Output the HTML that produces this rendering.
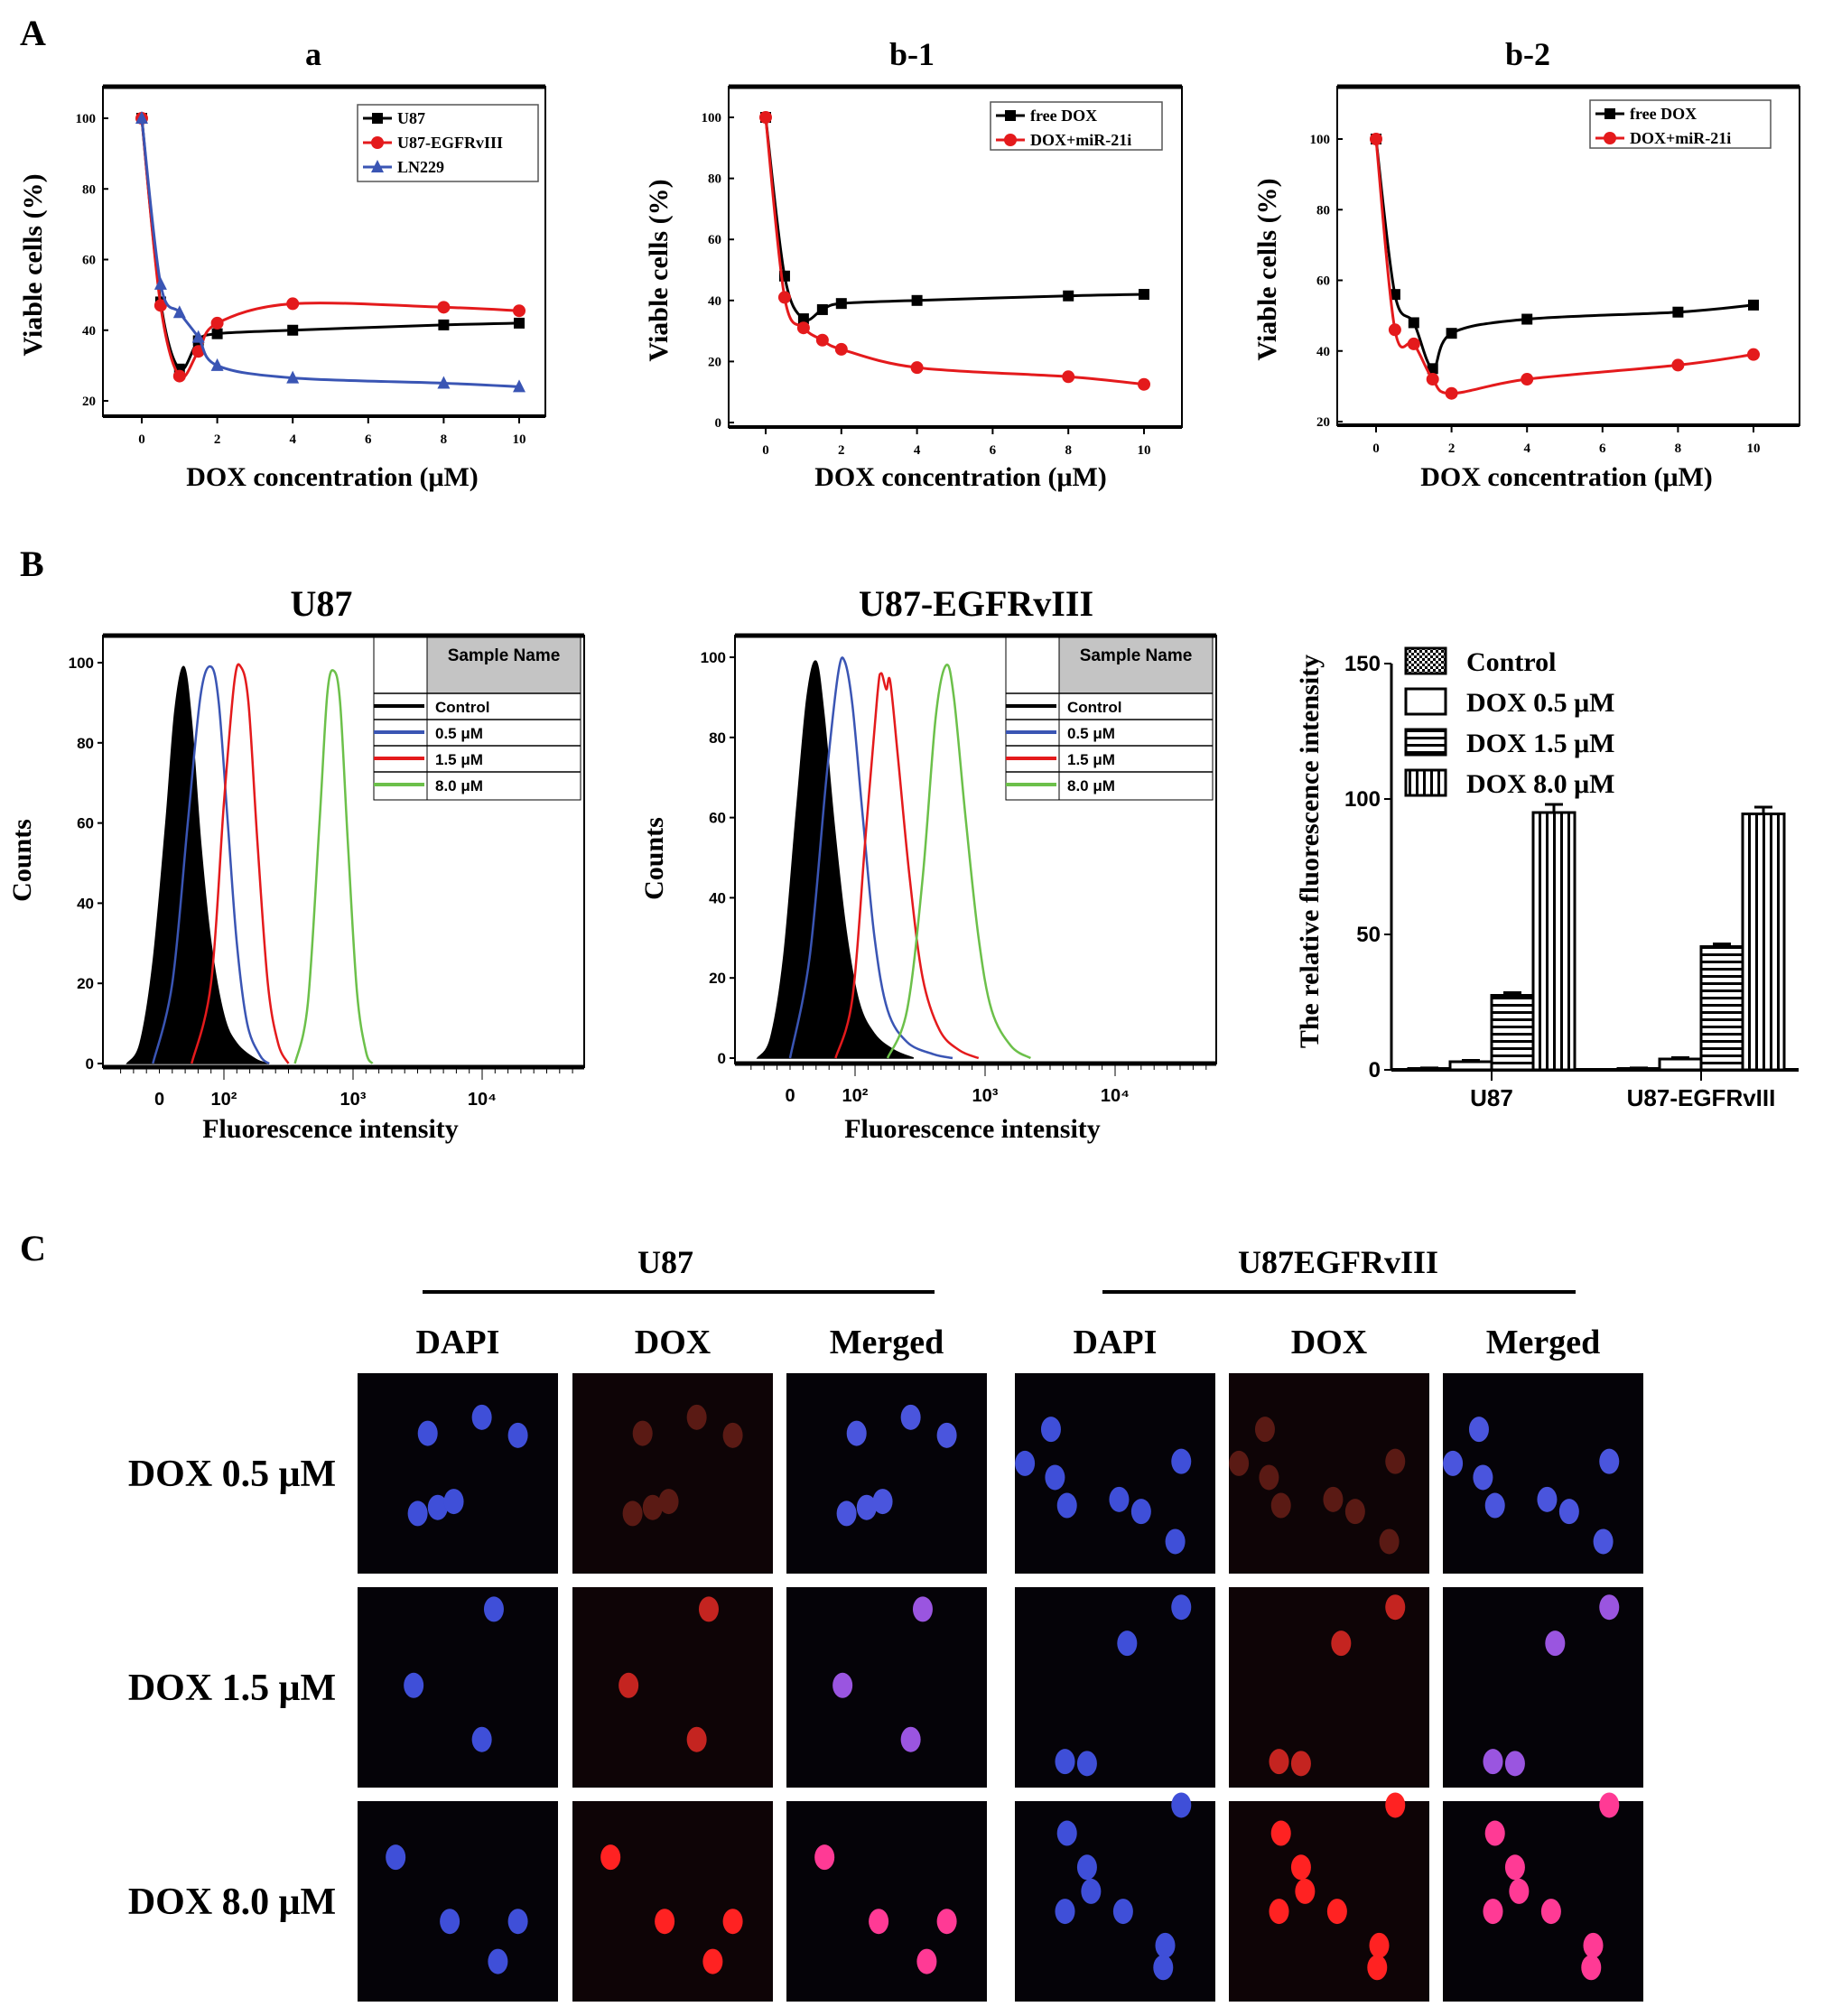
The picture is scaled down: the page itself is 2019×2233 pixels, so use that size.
<!DOCTYPE html>
<html><head><meta charset="utf-8"><style>
html,body{margin:0;padding:0;background:#fff}
svg{display:block}
text{font-family:"Liberation Serif",serif;font-weight:bold;fill:#000}
.sans{font-family:"Liberation Sans",sans-serif}
</style></head><body>
<svg id="fig" width="2019" height="2233" viewBox="0 0 2019 2233" xmlns="http://www.w3.org/2000/svg">
<text x="22" y="50" font-size="40">A</text>
<text x="22" y="638" font-size="40">B</text>
<text x="22" y="1396" font-size="40">C</text>
<g id="layer"></g>
</svg>
<script>
// ---- Panel A data ----
const doseX = [0,0.5,1,1.5,2,4,8,10];
const aU87 = [100,48,29,37,39,40,41.5,42];
const aEGFR = [100,47,27,34,42,47.5,46.5,45.5];
const aLN229 = [100,53,45,38,30,26.5,25,24];
const b1Free = [100,48,34,37,39,40,41.5,42];
const b1Mir = [100,41,31,27,24,18,15,12.5];
const b2Free = [100,56,48,35,45,49,51,53];
const b2Mir = [100,46,42,32,28,32,36,39];
const xTicks = [0,2,4,6,8,10];
const aYTicks = [20,40,60,80,100];
const b1YTicks = [0,20,40,60,80,100];
const b2YTicks = [20,40,60,80,100];
// ---- Histogram data: [decade position, counts] ----
const h1Control = [[1.25,0],[1.35,5],[1.45,25],[1.55,60],[1.62,88],[1.69,99],[1.75,85],[1.82,55],[1.9,30],[2.0,12],[2.1,5],[2.25,1],[2.35,0]];
const h1Blue = [[1.45,0],[1.6,20],[1.72,60],[1.82,92],[1.9,99],[1.96,90],[2.03,60],[2.1,30],[2.18,10],[2.28,2],[2.35,0]];
const h1Red = [[1.75,0],[1.9,20],[2.0,65],[2.08,95],[2.13,99],[2.19,90],[2.26,55],[2.34,20],[2.42,5],[2.5,0]];
const h1Green = [[2.55,0],[2.65,15],[2.74,60],[2.8,92],[2.85,98],[2.9,90],[2.96,55],[3.03,18],[3.1,3],[3.15,0]];
const h2Control = [[1.25,0],[1.35,5],[1.45,25],[1.55,62],[1.63,90],[1.7,99],[1.76,86],[1.84,58],[1.93,32],[2.03,14],[2.15,6],[2.3,2],[2.45,0]];
const h2Blue = [[1.5,0],[1.65,25],[1.78,70],[1.87,96],[1.92,99],[1.98,88],[2.06,60],[2.15,30],[2.25,12],[2.4,4],[2.6,1],[2.75,0]];
const h2Red = [[1.85,0],[1.98,15],[2.08,55],[2.17,90],[2.2,96],[2.24,92],[2.27,94],[2.33,75],[2.42,45],[2.52,20],[2.65,7],[2.8,2],[2.95,0]];
const h2Green = [[2.25,0],[2.4,12],[2.52,45],[2.62,85],[2.7,98],[2.76,90],[2.85,60],[2.95,30],[3.05,12],[3.2,3],[3.35,0]];
const histYTicks = [0,20,40,60,80,100];
// ---- Bar data ----
const barGroups = ["U87","U87-EGFRvIII"];
const barSeries = ["Control","DOX 0.5 μM","DOX 1.5 μM","DOX 8.0 μM"];
const barU87 = [0.5,3,27.5,95];
const barEGFR = [0.5,4,45.5,94.5];
const barErrU87 = [0.2,0.5,1,3];
const barErrEGFR = [0.2,0.5,1,2.5];
const barYTicks = [0,50,100,150];

const NS="http://www.w3.org/2000/svg";
const layer=document.getElementById('layer');
function el(tag,attrs,parent){const e=document.createElementNS(NS,tag);for(const k in attrs)e.setAttribute(k,attrs[k]);(parent||layer).appendChild(e);return e;}
function txt(x,y,s,size,extra,parent){const t=el('text',Object.assign({x:x,y:y,'font-size':size},extra||{}),parent);t.textContent=s;return t;}
function smooth(pts){let d='M'+pts[0][0]+','+pts[0][1];for(let i=0;i<pts.length-1;i++){const p0=pts[i-1]||pts[i],p1=pts[i],p2=pts[i+1],p3=pts[i+2]||p2;const c1x=p1[0]+(p2[0]-p0[0])/6,c1y=p1[1]+(p2[1]-p0[1])/6,c2x=p2[0]-(p3[0]-p1[0])/6,c2y=p2[1]-(p3[1]-p1[1])/6;d+=' C'+c1x+','+c1y+' '+c2x+','+c2y+' '+p2[0]+','+p2[1];}return d;}

function marker(g,shape,x,y,c){
  if(shape==='sq'){const m=el('rect',{x:x-6,y:y-6,width:12,height:12,fill:c},g);}
  else if(shape==='ci'){const m=el('circle',{cx:x,cy:y,r:7,fill:c},g);}
  else {const m=el('polygon',{points:(x)+','+(y-8)+' '+(x-7)+','+(y+6)+' '+(x+7)+','+(y+6),fill:c},g);}
}

function lineChart(cfg){
  const g=el('g',{});
  const [bx0,by0,bx1,by1]=cfg.box;
  const X=v=>cfg.x0+(v/10)*(cfg.x10-cfg.x0);
  const Y=v=>cfg.ya+(v-cfg.va)*(cfg.yb-cfg.ya)/(cfg.vb-cfg.va);
  const fr=el('rect',{x:bx0,y:by0,width:bx1-bx0,height:by1-by0,fill:'none',stroke:'#000','stroke-width':2},g);
  
  el('line',{x1:bx0,y1:by0,x2:bx1,y2:by0,stroke:'#000','stroke-width':5},g);
  el('line',{x1:bx0,y1:by1,x2:bx1,y2:by1,stroke:'#000','stroke-width':4},g);
  const tt=txt(cfg.titleX,72,cfg.title,36,{'text-anchor':'middle'},g);
  cfg.yTicks.forEach(v=>{const y=Y(v);el('line',{x1:bx0,y1:y,x2:bx0+6,y2:y,stroke:'#000','stroke-width':2},g);const t=txt(bx0-8,y+5,v,15,{'text-anchor':'end'},g);});
  xTicks.forEach(v=>{const x=X(v);el('line',{x1:x,y1:by1,x2:x,y2:by1+8,stroke:'#000','stroke-width':2},g);const t=txt(x,by1+30,v,15,{'text-anchor':'middle'},g);});
  const xl=txt(cfg.xlX,538,'DOX concentration (μM)',30,{'text-anchor':'middle'},g);
  const cy=(by0+by1)/2+15;const yl=txt(bx0-68,cy,'Viable cells (%)',30,{'text-anchor':'middle',transform:'rotate(-90 '+(bx0-68)+' '+cy+')'},g);
  cfg.series.forEach(s=>{
    const pts=doseX.map((xv,i)=>[X(xv),Y(s.vals[i])]);
    const p=el('path',{d:smooth(pts),fill:'none',stroke:s.color,'stroke-width':3},g);
    pts.forEach(pt=>marker(g,s.shape,pt[0],pt[1],s.color));
  });
  const [lx0,ly0,lx1,ly1]=cfg.legend;
  const lg=el('g',{},g);
  el('rect',{x:lx0,y:ly0,width:lx1-lx0,height:ly1-ly0,fill:'#fff',stroke:'#555','stroke-width':1.5},lg);
  cfg.series.forEach((s,i)=>{const y=ly0+15+i*27;el('line',{x1:lx0+6,y1:y,x2:lx0+38,y2:y,stroke:s.color,'stroke-width':3},lg);marker(lg,s.shape,lx0+22,y,s.color);const t=txt(lx0+44,y+6,s.label,18,{},lg);});
}
lineChart({name:'chart-a',title:'a',titleX:347,xlX:368,box:[114,96,604,461],x0:157,x10:575,ya:131,va:100,yb:444,vb:20,yTicks:aYTicks,legend:[396,116,596,201],
 series:[{id:'u87',label:'U87',vals:aU87,color:'#000',shape:'sq'},{id:'egfr',label:'U87-EGFRvIII',vals:aEGFR,color:'#e41a1c',shape:'ci'},{id:'ln229',label:'LN229',vals:aLN229,color:'#3a55b4',shape:'tr'}]});
lineChart({name:'chart-b1',title:'b-1',titleX:1010,xlX:1064,box:[807,96,1309,473],x0:848,x10:1267,ya:130,va:100,yb:468,vb:0,yTicks:b1YTicks,legend:[1097,113,1287,166],
 series:[{id:'free-dox',label:'free DOX',vals:b1Free,color:'#000',shape:'sq'},{id:'dox-mir',label:'DOX+miR-21i',vals:b1Mir,color:'#e41a1c',shape:'ci'}]});
lineChart({name:'chart-b2',title:'b-2',titleX:1692,xlX:1735,box:[1481,96,1993,471],x0:1524,x10:1942,ya:154,va:100,yb:467,vb:20,yTicks:b2YTicks,legend:[1761,111,1961,164],
 series:[{id:'free-dox',label:'free DOX',vals:b2Free,color:'#000',shape:'sq'},{id:'dox-mir',label:'DOX+miR-21i',vals:b2Mir,color:'#e41a1c',shape:'ci'}]});

function hist(cfg){
  const g=el('g',{});
  const [bx0,by0,bx1,by1]=cfg.box;
  const X=d=>cfg.x2+(d-2)*cfg.dec;
  const Y=v=>cfg.y0+v*(cfg.y100-cfg.y0)/100;
  const tt=txt(cfg.titleX,682,cfg.title,40,{'text-anchor':'middle'},g);
  const fr=el('rect',{x:bx0,y:by0,width:bx1-bx0,height:by1-by0,fill:'none',stroke:'#000','stroke-width':2},g);
  el('line',{x1:bx0,y1:by0,x2:bx1,y2:by0,stroke:'#000','stroke-width':5},g);
  el('line',{x1:bx0,y1:by1,x2:bx1,y2:by1,stroke:'#000','stroke-width':5},g);
  histYTicks.forEach(v=>{const y=Y(v);el('line',{x1:bx0-6,y1:y,x2:bx0,y2:y,stroke:'#000','stroke-width':2},g);const t=txt(bx0-10,y+6,v,17,{'text-anchor':'end',class:'sans'},g);});
  for(let d=1.2;d<4.7;d+=0.1){const x=X(d);el('line',{x1:x,y1:by1+2,x2:x,y2:by1+(Math.abs(d-Math.round(d))<0.05?14:7),stroke:'#000','stroke-width':1},g);}
  [['0',1.5],['10²',2],['10³',3],['10⁴',4]].forEach(a=>{const t=txt(X(a[1]),by1+42,a[0],20,{'text-anchor':'middle',class:'sans'},g);});
  const xl=txt(cfg.xlX,1260,'Fluorescence intensity',30,{'text-anchor':'middle'},g);
  const cy=(by0+by1)/2+10;const yl=txt(bx0-80,cy,'Counts',30,{'text-anchor':'middle',transform:'rotate(-90 '+(bx0-80)+' '+cy+')'},g);
  const c=cfg.control.map(p=>[X(p[0]),Y(p[1])]);
  const cp=el('path',{d:smooth(c)+' Z',fill:'#000',stroke:'#000','stroke-width':1.5},g);
  cfg.lines.forEach(l=>{const pts=l.data.map(p=>[X(p[0]),Y(p[1])]);const p=el('path',{d:smooth(pts),fill:'none',stroke:l.color,'stroke-width':2.5},g);});
  const lx=bx1-233,lw=229;
  const lg=el('g',{},g);
  el('rect',{x:lx,y:by0+2,width:lw,height:180,fill:'#fff',stroke:'#000','stroke-width':1},lg);
  el('rect',{x:lx+59,y:by0+2,width:lw-59,height:62,fill:'#c4c4c4',stroke:'#000','stroke-width':1},lg);
  txt(lx+59+(lw-59)/2,by0+28,'Sample Name',19,{'text-anchor':'middle',class:'sans'},lg);
  const rows=[['Control','#000'],['0.5 μM','#3a55b4'],['1.5 μM','#e41a1c'],['8.0 μM','#6cc04a']];
  rows.forEach((r,i)=>{const y0=by0+64+i*29;el('line',{x1:lx,y1:y0,x2:lx+lw,y2:y0,stroke:'#000','stroke-width':1.5},lg);el('line',{x1:lx,y1:y0+14,x2:lx+56,y2:y0+14,stroke:r[1],'stroke-width':4},lg);const t=txt(lx+68,y0+21,r[0],17,{class:'sans'},lg);});
  el('line',{x1:lx+59,y1:by0+2,x2:lx+59,y2:by0+182,stroke:'#000','stroke-width':1},lg);
}
hist({name:'histogram-u87',title:'U87',titleX:356,xlX:366,box:[114,704,647,1182],x2:248,dec:143,y0:1178,y100:734,control:h1Control,
 lines:[{id:'blue',data:h1Blue,color:'#3a55b4'},{id:'red',data:h1Red,color:'#e41a1c'},{id:'green',data:h1Green,color:'#6cc04a'}]});
hist({name:'histogram-u87-egfrviii',title:'U87-EGFRvIII',titleX:1081,xlX:1077,box:[814,704,1347,1178],x2:947,dec:144,y0:1172,y100:728,control:h2Control,
 lines:[{id:'blue',data:h2Blue,color:'#3a55b4'},{id:'red',data:h2Red,color:'#e41a1c'},{id:'green',data:h2Green,color:'#6cc04a'}]});

(function(){
  const g=el('g',{});
  const defs=el('defs',{},g);
  const p1=el('pattern',{id:'pCheck',width:6,height:6,patternUnits:'userSpaceOnUse'},defs);el('rect',{width:6,height:6,fill:'#fff'},p1);el('rect',{width:3,height:3,fill:'#000'},p1);el('rect',{x:3,y:3,width:3,height:3,fill:'#000'},p1);
  const p2=el('pattern',{id:'pH',width:8,height:8,patternUnits:'userSpaceOnUse'},defs);el('rect',{width:8,height:8,fill:'#fff'},p2);el('rect',{width:8,height:3,fill:'#000'},p2);
  const p3=el('pattern',{id:'pV',width:8,height:8,patternUnits:'userSpaceOnUse'},defs);el('rect',{width:8,height:8,fill:'#fff'},p3);el('rect',{width:3,height:8,fill:'#000'},p3);
  const fills=['url(#pCheck)','#fff','url(#pH)','url(#pV)'];
  const ax=1541,y0=1185,ppu=3.0,bw=46;
  const Y=v=>y0-v*ppu;
  el('line',{x1:ax,y1:Y(150),x2:ax,y2:y0,stroke:'#000','stroke-width':3},g);
  el('line',{x1:ax,y1:y0,x2:1992,y2:y0,stroke:'#000','stroke-width':4},g);
  barYTicks.forEach(v=>{el('line',{x1:ax-8,y1:Y(v),x2:ax,y2:Y(v),stroke:'#000','stroke-width':2},g);const t=txt(ax-12,Y(v)+8,v,24,{'text-anchor':'end',class:'sans','font-weight':'normal'},g);});
  const cy=943;const yl=txt(1460,cy,'The relative fluorescence intensity',30,{'text-anchor':'middle',transform:'rotate(-90 1460 '+cy+')'},g);
  const groupStart=[1560,1792],vals=[barU87,barEGFR],errs=[barErrU87,barErrEGFR];
  barGroups.forEach((gn,gi)=>{
    vals[gi].forEach((v,i)=>{const x=groupStart[gi]+i*bw;const r=el('rect',{x:x,y:Y(v),width:bw,height:v*ppu,fill:fills[i],stroke:'#000','stroke-width':3},g);
      const e=errs[gi][i];el('line',{x1:x+bw/2,y1:Y(v),x2:x+bw/2,y2:Y(v+e),stroke:'#000','stroke-width':3},g);el('line',{x1:x+bw/2-10,y1:Y(v+e),x2:x+bw/2+10,y2:Y(v+e),stroke:'#000','stroke-width':3},g);});
    const cx=groupStart[gi]+2*bw;el('line',{x1:cx,y1:y0,x2:cx,y2:y0+12,stroke:'#000','stroke-width':2},g);
    const t=txt(cx,y0+40,gn,26,{'text-anchor':'middle',class:'sans'},g);
  });
  barSeries.forEach((s,i)=>{const y=718+i*45;el('rect',{x:1557,y:y,width:44,height:28,fill:fills[i],stroke:'#000','stroke-width':3},g);const t=txt(1624,y+25,s,30,{},g);});
})();

const colX=[396,634,871,1124,1361,1598];
const rowY=[1521,1758,1995];
const tileW=222,tileH=222;
const rowLabels=["DOX 0.5 μM","DOX 1.5 μM","DOX 8.0 μM"];
const colHeaders=["DAPI","DOX","Merged","DAPI","DOX","Merged"];
const cellsU87=[[[0.35,0.30],[0.62,0.22],[0.8,0.31],[0.3,0.7],[0.4,0.67],[0.48,0.64]],[[0.68,0.11],[0.28,0.49],[0.62,0.76]],[[0.19,0.28],[0.46,0.6],[0.8,0.6],[0.7,0.8]]];
const cellsEGFR=[[[0.18,0.28],[0.05,0.45],[0.2,0.52],[0.26,0.66],[0.52,0.63],[0.63,0.69],[0.83,0.44],[0.8,0.84]],[[0.83,0.1],[0.56,0.28],[0.25,0.87],[0.36,0.88]],[[0.26,0.16],[0.36,0.33],[0.38,0.45],[0.25,0.55],[0.54,0.55],[0.75,0.72],[0.74,0.83],[0.83,0.02]]];
const redCol=['#5a1a14','#c42420','#ff2222'];
const mergeCol=['#4a55dd','#9a55e0','#ff3a95'];
(function(){
  const g=el('g',{});
  let t=txt(737,1410,'U87',36,{'text-anchor':'middle'},g);
  t=txt(1482,1410,'U87EGFRvIII',36,{'text-anchor':'middle'},g);
  el('line',{x1:468,y1:1431,x2:1035,y2:1431,stroke:'#000','stroke-width':4},g);
  el('line',{x1:1221,y1:1431,x2:1745,y2:1431,stroke:'#000','stroke-width':4},g);
  colHeaders.forEach((h,i)=>{const t=txt(colX[i]+tileW/2,1499,h,38,{'text-anchor':'middle'},g);});
  rowLabels.forEach((r,j)=>{const t=txt(257,rowY[j]+125,r,42,{'text-anchor':'middle'},g);});
  rowY.forEach((y,j)=>colX.forEach((x,i)=>{
    const tile=el('g',{},g);
    el('rect',{x:x,y:y,width:tileW,height:tileH,fill:(i%3===1)?'#0e0406':'#050308'},tile);
    const cells=i<3?cellsU87[j]:cellsEGFR[j];const kind=i%3;
    const col=kind===0?'#3f4fd8':kind===1?redCol[j]:mergeCol[j];
    cells.forEach(c=>{const e=el('ellipse',{cx:x+c[0]*tileW,cy:y+c[1]*tileH,rx:11,ry:14,fill:col},tile);});
  }));
})();
</script>
</body></html>
